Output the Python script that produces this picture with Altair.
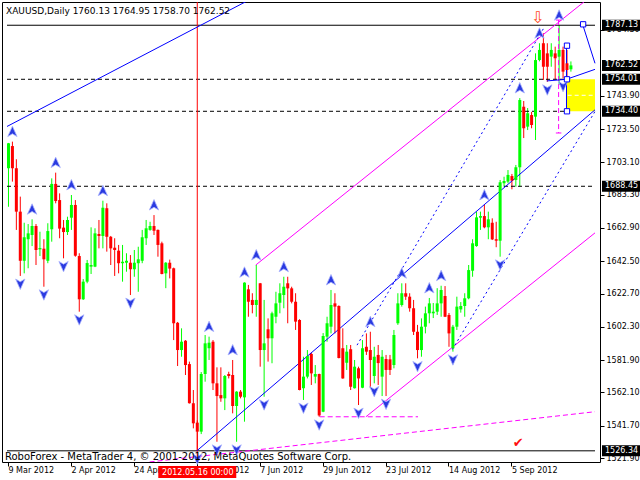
import altair as alt
import pandas as pd

# ---------------- data ----------------
opens = [
    1699.5, 1713.1, 1699.5, 1672.9, 1642.8, 1656.0, 1658.6, 1664.1, 1649.8, 1650.2,
    1642.8, 1662.1, 1689.9, 1680.0, 1663.1, 1660.4, 1669.2, 1677.0, 1645.7, 1619.2,
    1630.0, 1639.2, 1639.2, 1659.2, 1658.0, 1675.0, 1657.5, 1650.8, 1649.0, 1641.3,
    1641.6, 1641.6, 1637.6, 1641.3, 1642.8, 1656.6, 1661.7, 1664.1, 1661.7, 1653.5,
    1635.1, 1641.6, 1638.2, 1604.8, 1588.1, 1593.8, 1579.5, 1555.5, 1543.6, 1538.1,
    1573.4, 1589.2, 1593.2, 1567.7, 1560.5, 1558.5, 1573.4, 1572.8, 1553.8, 1562.6,
    1559.1, 1625.3, 1618.8, 1615.7, 1629.0, 1588.1, 1600.8, 1595.3, 1608.5, 1617.1,
    1621.8, 1629.0, 1625.9, 1617.7, 1606.5, 1564.7, 1571.8, 1585.7, 1571.8, 1573.4,
    1550.3, 1596.3, 1602.4, 1616.7, 1615.1, 1589.2, 1580.3, 1588.6, 1564.7, 1576.9,
    1565.0, 1590.1, 1588.1, 1572.2, 1585.1, 1571.8, 1582.6, 1582.4, 1578.9, 1604.5,
    1615.7, 1622.9, 1620.8, 1613.7, 1599.3, 1588.1, 1602.4, 1610.6, 1610.6, 1611.6,
    1616.7, 1621.2, 1609.6, 1589.2, 1602.4, 1613.0, 1615.1, 1619.8, 1636.7, 1651.8,
    1669.2, 1670.2, 1663.3, 1666.1, 1656.0, 1655.1, 1690.3, 1691.3, 1694.7, 1692.3,
    1700.1, 1737.2, 1725.0, 1732.1, 1731.1, 1765.8, 1776.1, 1769.9, 1767.9, 1769.9,
    1767.9, 1772.0, 1763.8, 1760.13]
highs = [
    1715.0, 1715.8, 1705.0, 1682.1, 1666.1, 1665.3, 1668.2, 1665.3, 1660.6, 1656.0,
    1665.8, 1693.3, 1696.8, 1684.1, 1667.8, 1669.8, 1683.1, 1680.0, 1647.4, 1631.6,
    1643.3, 1663.3, 1662.7, 1667.8, 1679.6, 1678.0, 1658.0, 1656.6, 1652.5, 1652.5,
    1647.4, 1646.3, 1649.4, 1651.4, 1661.7, 1667.8, 1666.7, 1670.8, 1662.0, 1654.5,
    1642.0, 1643.5, 1638.6, 1605.3, 1601.4, 1594.2, 1581.0, 1563.6, 1545.0, 1574.6,
    1597.3, 1596.3, 1594.2, 1577.5, 1577.5, 1572.8, 1574.8, 1582.0, 1562.9, 1563.6,
    1629.6, 1628.0, 1622.9, 1640.2, 1629.2, 1618.8, 1607.5, 1611.6, 1623.8, 1629.0,
    1633.0, 1633.0, 1626.9, 1622.9, 1607.0, 1584.0, 1588.1, 1586.5, 1578.9, 1573.6,
    1598.5, 1608.5, 1624.9, 1622.9, 1615.5, 1601.4, 1591.2, 1591.2, 1582.0, 1577.9,
    1594.2, 1598.3, 1599.3, 1590.1, 1591.2, 1588.1, 1585.1, 1585.1, 1600.4, 1622.9,
    1629.0, 1629.0, 1622.9, 1618.8, 1603.5, 1607.5, 1614.7, 1620.0, 1616.9, 1626.0,
    1627.5, 1627.3, 1610.8, 1603.5, 1620.8, 1617.5, 1622.9, 1640.2, 1656.0, 1672.9,
    1672.9, 1677.0, 1672.9, 1668.8, 1666.7, 1692.3, 1694.3, 1698.4, 1696.0, 1701.5,
    1742.5, 1740.7, 1736.4, 1734.0, 1769.9, 1776.1, 1782.2, 1776.1, 1776.1, 1774.0,
    1787.13, 1774.0, 1772.0, 1764.95]
lows = [
    1675.9, 1691.3, 1661.7, 1633.5, 1635.1, 1638.2, 1651.8, 1640.2, 1645.7, 1626.9,
    1641.3, 1654.5, 1678.0, 1656.6, 1644.3, 1658.6, 1661.7, 1645.3, 1611.6, 1618.8,
    1629.0, 1634.7, 1638.9, 1650.4, 1650.4, 1648.4, 1640.2, 1633.5, 1635.1, 1630.0,
    1636.1, 1621.8, 1633.0, 1623.8, 1641.3, 1652.5, 1661.2, 1658.6, 1645.3, 1634.5,
    1626.0, 1632.0, 1594.2, 1578.3, 1584.0, 1572.8, 1555.3, 1540.1, 1526.34, 1536.6,
    1568.7, 1582.0, 1563.6, 1531.9, 1556.4, 1551.3, 1570.7, 1549.3, 1531.9, 1558.5,
    1544.2, 1608.5, 1610.6, 1608.5, 1577.9, 1559.5, 1581.0, 1580.0, 1604.5, 1610.6,
    1613.7, 1604.5, 1616.7, 1600.4, 1563.4, 1557.5, 1570.7, 1566.7, 1567.7, 1547.2,
    1550.0, 1593.2, 1598.3, 1598.3, 1583.0, 1570.5, 1575.9, 1563.6, 1564.5, 1554.4,
    1564.7, 1585.1, 1564.7, 1567.7, 1566.7, 1559.9, 1559.9, 1572.8, 1576.9, 1603.5,
    1614.7, 1618.8, 1611.6, 1597.3, 1583.0, 1584.0, 1598.3, 1604.5, 1607.7, 1609.6,
    1608.5, 1608.3, 1590.1, 1587.1, 1600.4, 1611.0, 1608.5, 1619.2, 1633.0, 1651.4,
    1661.7, 1662.7, 1656.0, 1655.5, 1651.1, 1645.3, 1688.2, 1690.3, 1686.6, 1688.2,
    1688.2, 1718.0, 1722.9, 1724.0, 1716.8, 1765.0, 1753.6, 1752.5, 1761.7, 1753.6,
    1750.5, 1754.6, 1754.6, 1758.70]
closes = [
    1714.8, 1699.5, 1672.9, 1642.8, 1657.2, 1659.6, 1664.1, 1649.4, 1650.6, 1643.7,
    1661.0, 1689.9, 1679.4, 1662.5, 1660.4, 1667.8, 1677.0, 1645.9, 1619.2, 1630.0,
    1641.4, 1640.2, 1659.6, 1658.0, 1675.3, 1657.5, 1650.4, 1649.4, 1641.3, 1642.2,
    1642.8, 1637.6, 1641.6, 1643.7, 1657.2, 1662.7, 1664.1, 1661.2, 1652.5, 1634.7,
    1641.6, 1638.0, 1604.5, 1588.1, 1593.2, 1578.9, 1555.5, 1543.2, 1538.1, 1573.4,
    1592.2, 1592.6, 1567.7, 1559.9, 1558.5, 1572.2, 1572.2, 1553.8, 1562.6, 1559.5,
    1629.4, 1617.7, 1615.7, 1618.8, 1588.1, 1592.2, 1595.3, 1610.6, 1616.7, 1622.9,
    1626.9, 1625.9, 1617.7, 1605.5, 1563.6, 1571.8, 1584.4, 1573.8, 1573.4, 1548.0,
    1596.7, 1604.5, 1615.7, 1614.7, 1583.2, 1570.7, 1587.1, 1565.6, 1577.9, 1570.7,
    1589.2, 1587.1, 1582.0, 1584.0, 1580.1, 1584.0, 1575.9, 1575.9, 1597.3, 1616.7,
    1622.9, 1620.8, 1613.7, 1599.3, 1588.1, 1602.4, 1610.6, 1616.7, 1611.6, 1616.7,
    1624.9, 1608.5, 1598.3, 1602.4, 1614.7, 1615.1, 1619.8, 1637.1, 1653.5, 1669.4,
    1670.2, 1663.3, 1668.2, 1655.9, 1655.1, 1690.9, 1691.7, 1695.4, 1691.9, 1700.1,
    1741.3, 1724.0, 1733.2, 1726.0, 1765.8, 1772.0, 1761.7, 1761.7, 1772.0, 1766.9,
    1772.0, 1758.7, 1759.7, 1762.52]

date_ticks = [0, 16, 32, 48, 64, 80, 96, 112, 128]
date_labels = ["9 Mar 2012", "2 Apr 2012", "24 Apr 2012", "16 May 2012", "7 Jun 2012",
               "29 Jun 2012", "23 Jul 2012", "14 Aug 2012", "5 Sep 2012"]
price_ticks = [1521.90, 1541.70, 1562.10, 1581.90, 1602.30, 1622.70, 1642.50, 1662.90,
               1683.30, 1703.10, 1723.50, 1743.90, 1784.30]
box_prices = [1787.13, 1762.52, 1754.01, 1734.40, 1688.45, 1526.34]
box_labels = ["1787.13", "1762.52", "1754.01", "1734.40", "1688.45", "1526.34"]

up_fractals = [1, 6, 12, 16, 24, 37, 51, 57, 60, 63, 70, 82, 92, 100, 107, 110, 121, 130, 135, 140]
down_fractals = [3, 9, 14, 18, 31, 48, 53, 58, 65, 75, 79, 89, 93, 96, 104, 113, 125, 137, 141]

marker_bar = 48
marker_label = "2012.05.16 00:00"
title_text = "XAUUSD,Daily  1760.13 1764.95 1758.70 1762.52"
watermark_text = "RoboForex - MetaTrader 4, \u00a9 2001-2012, MetaQuotes Software Corp."

# trend objects: (bar1, price1, bar2, price2)
blue_solid = [(-0.25, 1725.1, 60.5, 1801.6), (48, 1526.3, 149.25, 1735.3),
              (137, 1753.0, 142, 1754.01), (142, 1754.01, 149.25, 1760.1),
              (146.1, 1787.7, 149.25, 1763.8), (142, 1774.6, 142, 1754.01),
              (142, 1754.01, 142, 1734.40)]
blue_dashed = [(88.75, 1591.1, 136.25, 1785.5), (113, 1588.5, 149.25, 1734.3)]
magenta_solid = [(63, 1640.2, 147, 1802.5), (91, 1547.2, 149.25, 1659.9),
                 (139.3, 1790.3, 140.7, 1790.3), (139.3, 1721.1, 140.7, 1721.1)]
magenta_dashed = [(36, 1519.5, 149.25, 1550.3), (79.25, 1547.2, 104.25, 1547.2),
                  (140, 1790.3, 140, 1721.1)]
black_dashed = [(-0.25, 1754.01, 142, 1754.01), (-0.25, 1734.40, 142, 1734.40),
                (-0.25, 1688.45, 149.25, 1688.45)]
black_solid = [(-0.25, 1787.13, 149.25, 1787.13), (-0.25, 1526.34, 149.25, 1526.34)]
white_dashed = [(142.3, 1744.2, 149.25, 1744.2)]
zone = [(142, 1754.01, 149.25, 1734.40)]
squares_i = [142, 142, 142, 146.1]
squares_p = [1774.6, 1754.01, 1734.40, 1787.7]
check_mark = (129.7, 1531.2)
sell_arrow = (134.7, 1791.4)

# ---------------- chart ----------------
FONT = "DejaVu Sans"
xs = alt.Scale(domain=[-0.25, 149.25], nice=False, zero=False)
ys = alt.Scale(domain=[1519.49, 1801.37], nice=False, zero=False)

label_expr = "[" + ",".join("'%s'" % d for d in date_labels) + "][round(datum.value/16)]"
XAX = alt.Axis(values=date_ticks, labelExpr=label_expr, title=None, grid=False,
               domain=False, tickSize=4, labelPadding=4, labelAlign="left",
               labelBaseline="middle", labelFlush=False, labelOverlap=False, zindex=0)
YAX = alt.Axis(orient="right", values=price_ticks, format=".2f", title=None,
               grid=False, domain=False, tickSize=4, labelPadding=2,
               labelAlign="left", labelBaseline="middle", labelFlush=False,
               labelOverlap=False, zindex=0)


def X(f):
    return alt.X(f, scale=xs, axis=XAX)


def Y(f):
    return alt.Y(f, scale=ys, axis=YAX)


N = len(closes)
candles = pd.DataFrame({"i": list(range(N)), "open": opens, "high": highs,
                        "low": lows, "close": closes})
candles["dir"] = ["up" if c >= o else "down" for o, c in zip(opens, closes)]
cscale = alt.Scale(domain=["up", "down"], range=["#00ff00", "#ff0000"])


def seg_layer(segs, color, dash=None, mark="rule"):
    df = pd.DataFrame(segs, columns=["i1", "p1", "i2", "p2"])
    kw = dict(color=color, clip=True)
    if mark == "rule":
        kw["strokeWidth"] = 1
        if dash:
            kw["strokeDash"] = dash
        m = alt.Chart(df).mark_rule(**kw)
    else:
        m = alt.Chart(df).mark_rect(**kw)
    return m.encode(x=X("i1:Q"), x2="i2:Q", y=Y("p1:Q"), y2="p2:Q")


wicks = alt.Chart(candles).mark_rule(strokeWidth=1, xOffset=0.5).encode(
    x=X("i:Q"), y=Y("low:Q"), y2="high:Q",
    color=alt.Color("dir:N", scale=cscale, legend=None),
)
bodies = alt.Chart(candles).mark_bar(size=3, xOffset=0.5).encode(
    x=X("i:Q"), y=Y("open:Q"), y2="close:Q",
    color=alt.Color("dir:N", scale=cscale, legend=None),
)

UP_PATH = "M0,-1L0.85,0.9L0,0.4L-0.85,0.9Z"
DOWN_PATH = "M0,1L0.85,-0.9L0,-0.4L-0.85,-0.9Z"
up_df = pd.DataFrame({"i": up_fractals, "p": [highs[k] for k in up_fractals]})
down_df = pd.DataFrame({"i": down_fractals, "p": [lows[k] for k in down_fractals]})
up_arrows = alt.Chart(up_df).mark_point(
    shape=UP_PATH, size=120, filled=True, fill="#2a3ae0", stroke="#aab2ff",
    strokeWidth=0.8, opacity=1, yOffset=-10, xOffset=0.5).encode(x=X("i:Q"), y=Y("p:Q"))
down_arrows = alt.Chart(down_df).mark_point(
    shape=DOWN_PATH, size=120, filled=True, fill="#2a3ae0", stroke="#aab2ff",
    strokeWidth=0.8, opacity=1, yOffset=8, xOffset=0.5).encode(x=X("i:Q"), y=Y("p:Q"))

squares = alt.Chart(pd.DataFrame({"i": squares_i, "p": squares_p})).mark_point(
    shape="square", size=28, filled=False, color="#0000ff", fill="white",
    fillOpacity=1, strokeWidth=1, opacity=1, xOffset=0.5).encode(x=X("i:Q"), y=Y("p:Q"))

red_line = alt.Chart(pd.DataFrame({"i": [marker_bar]})).mark_rule(
    color="#ff0000", strokeWidth=1, xOffset=0.5).encode(
    x=X("i:Q"), y=alt.value(0), y2=alt.value(460))

check = alt.Chart(pd.DataFrame({"i": [check_mark[0]], "p": [check_mark[1]], "t": ["\u2714"]})).mark_text(
    font=FONT, fontSize=13, color="#ff1010", align="center", baseline="middle").encode(
    x=X("i:Q"), y=Y("p:Q"), text="t:N")
sell = alt.Chart(pd.DataFrame({"i": [sell_arrow[0]], "p": [sell_arrow[1]], "t": ["\u21e9"]})).mark_text(
    font=FONT, fontSize=16, color="#ff4a20", align="center", baseline="middle").encode(
    x=X("i:Q"), y=Y("p:Q"), text="t:N")

title = alt.Chart(pd.DataFrame({"t": [title_text]})).mark_text(
    font=FONT, fontSize=9, color="black", align="left", baseline="middle").encode(
    x=alt.value(4), y=alt.value(9), text="t:N")
watermark = alt.Chart(pd.DataFrame({"t": [watermark_text]})).mark_text(
    font=FONT, fontSize=10, color="black", align="left", baseline="middle").encode(
    x=alt.value(3), y=alt.value(454.5), text="t:N")

box_df = pd.DataFrame({"p": box_prices, "label": box_labels})
boxes = alt.Chart(box_df).mark_rect(color="black", yOffset=-5.5, y2Offset=5.5).encode(
    x=alt.value(600), x2=alt.value(640), y=Y("p:Q"), y2="p:Q")
box_text = alt.Chart(box_df).mark_text(
    font=FONT, fontSize=8, color="white", align="left", baseline="middle").encode(
    x=alt.value(603), y=Y("p:Q"), text="label:N")

date_df = pd.DataFrame({"i": [marker_bar], "label": [marker_label]})
date_box = alt.Chart(date_df).mark_rect(color="#ff0000", xOffset=-38.5, x2Offset=39.5).encode(
    x=X("i:Q"), x2="i:Q", y=alt.value(464), y2=alt.value(476))
date_text = alt.Chart(date_df).mark_text(
    font=FONT, fontSize=8, color="white", align="center", baseline="middle", xOffset=1).encode(
    x=X("i:Q"), y=alt.value(470.5), text="label:N")

chart = alt.layer(
    wicks,
    seg_layer(black_dashed, "black", [4, 3]),
    seg_layer(zone, "#ffff00", mark="rect"),
    seg_layer(white_dashed, "white", [4, 3]),
    seg_layer(black_solid, "black"),
    red_line,
    seg_layer(magenta_dashed, "#ff00ff", [5, 3]),
    seg_layer(magenta_solid, "#ff00ff"),
    seg_layer(blue_dashed, "#0000ff", [2, 3]),
    seg_layer(blue_solid, "#0000ff"),
    bodies,
    up_arrows, down_arrows, squares,
    check, sell, title, watermark,
    boxes, box_text, date_box, date_text,
).properties(
    width=598, height=460,
    padding={"left": 2, "top": 2, "right": 40, "bottom": 18},
    autosize=alt.AutoSizeParams(type="none"),
    background="white",
).configure_view(
    stroke="black", strokeWidth=1
).configure_axis(
    labelFont=FONT, labelFontSize=8, labelColor="black", tickColor="black"
)

chart.save("out.html", embed_options={"renderer": "svg", "actions": False})
